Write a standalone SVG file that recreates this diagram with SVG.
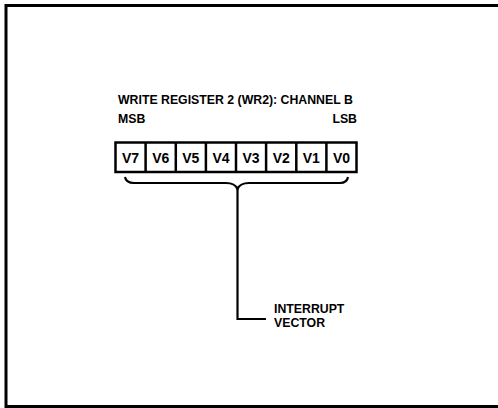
<svg xmlns="http://www.w3.org/2000/svg" width="498" height="408" viewBox="0 0 498 408">
<style>
.t{font-family:"Liberation Sans",Arial,sans-serif;font-weight:bold;fill:#000}
.lbl{font-size:12.3px}
.cell{font-size:14px;text-anchor:middle}
.ln{fill:none;stroke:#000;stroke-width:2.2}
</style>
<rect width="498" height="408" fill="#fff"/>
<g id="frame">
<path d="M498,5.5 H6 V406.5 H498" fill="none" stroke="#000" stroke-width="3"/>
</g>
<g id="title"><text class="t lbl" x="118" y="104">WRITE REGISTER 2 (WR2): CHANNEL B</text></g>
<g id="msb"><text class="t lbl" x="118" y="123">MSB</text></g>
<g id="lsb"><text class="t lbl" x="357" y="123" text-anchor="end">LSB</text></g>
<g id="register">
<rect x="115.5" y="142.5" width="241" height="29.5" fill="#fff" stroke="#000" stroke-width="2.5"/>
<path d="M145.6,142.5V172 M175.8,142.5V172 M205.9,142.5V172 M236,142.5V172 M266.1,142.5V172 M296.3,142.5V172 M326.4,142.5V172" stroke="#000" stroke-width="2.5" fill="none"/>
<text class="t cell" x="130.6" y="163">V7</text>
<text class="t cell" x="160.7" y="163">V6</text>
<text class="t cell" x="190.8" y="163">V5</text>
<text class="t cell" x="221" y="163">V4</text>
<text class="t cell" x="251.1" y="163">V3</text>
<text class="t cell" x="281.2" y="163">V2</text>
<text class="t cell" x="311.3" y="163">V1</text>
<text class="t cell" x="341.5" y="163">V0</text>
</g>
<g id="interrupt-vector">
<text class="t lbl" x="274" y="312.5">INTERRUPT</text>
<text class="t lbl" x="274" y="326.5">VECTOR</text>
</g>
<g id="connectors">
<path class="ln" d="M125,177 Q126,183 134,183 H226 Q235,183 237.5,189 Q240,183 249,183 H340 Q347,183 348,177"/>
<path class="ln" d="M237.5,189 V319 H266"/>
</g>
</svg>
